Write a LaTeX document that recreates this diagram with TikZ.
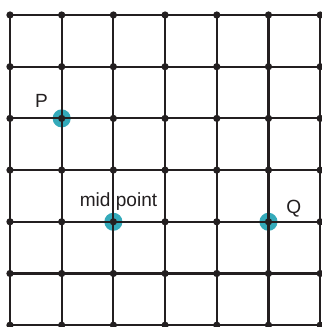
\documentclass[tikz,border=0pt]{standalone}
\usepackage{fontspec}
\setmainfont{Liberation Sans}
\usetikzlibrary{positioning}
\definecolor{gridline}{RGB}{35,31,32}
\definecolor{marker}{RGB}{52,170,186}

\begin{document}
\begin{tikzpicture}[
          grid/.style={draw=gridline, line width=1.2pt},
          dot/.style={circle, fill=gridline, inner sep=0pt, minimum size=1.4mm},
          spot/.style={circle, fill=marker, inner sep=0pt, minimum size=3.5mm},
          lbl/.style={inner sep=0pt, text=gridline, font=\fontsize{10.5}{12}\selectfont}
        ]
        \useasboundingbox (-0.193,-0.035) rectangle (6.019,6.29);
        % grid points
        \foreach \i in {0,...,6}
          \foreach \j in {0,...,6}
            \coordinate (g\i\j) at (\i,\j);
        % marked points
        \node[spot] (P) at (g14) {};
        \node[spot] (M) at (g22) {};
        \node[spot] (Q) at (g52) {};
        % lines
        \foreach \k in {0,...,6} {
          \draw[grid] (g\k0) -- (g\k6);
          \draw[grid] (g0\k) -- (g6\k);
        }
        % dots
        \foreach \i in {0,...,6}
          \foreach \j in {0,...,6}
            \node[dot] (d\i\j) at (g\i\j) {};
        % labels
        \node[lbl, above left=0.2cm and 0.26cm of P.center] (Plbl) {P};
        \node[lbl, above=0.21cm of M.center, xshift=0.1cm] (Mlbl) {mid point};
        \node[lbl, above right=0.08cm and 0.34cm of Q.center] (Qlbl) {Q};
      \end{tikzpicture}
\end{document}
